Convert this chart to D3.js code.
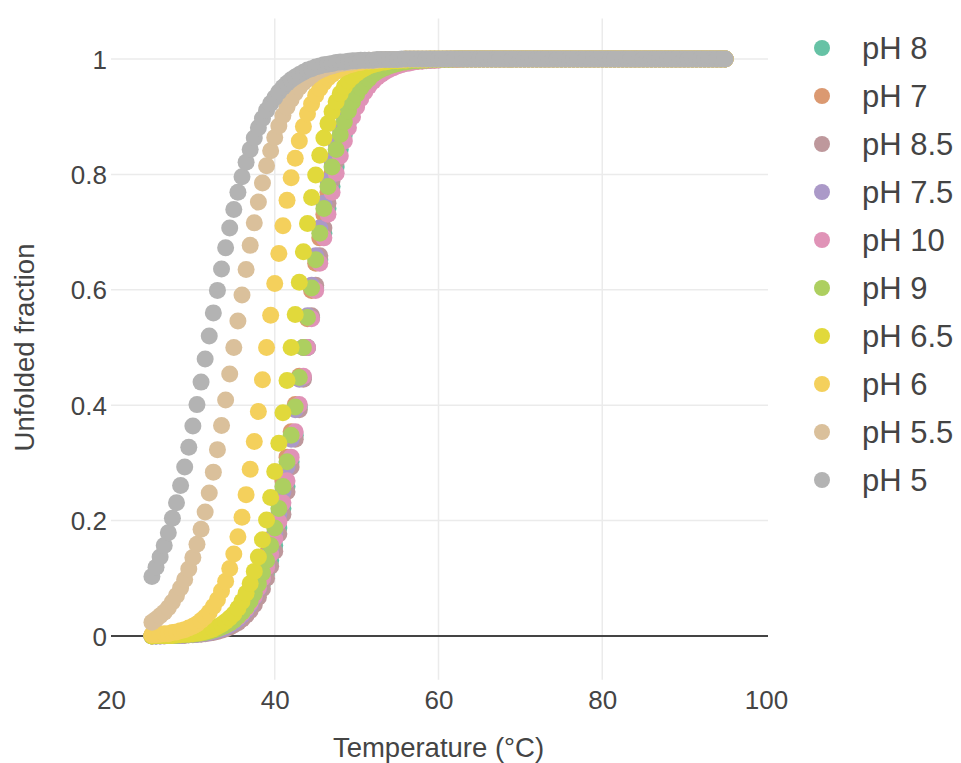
<!DOCTYPE html>
<html>
<head>
<meta charset="utf-8">
<script src="https://cdn.jsdelivr.net/npm/d3@7"></script>
<style>
html, body { margin: 0; padding: 0; background: #fff; }
svg { display: block; font-family: "Liberation Sans", Arial, sans-serif; }
</style>
</head>
<body>
<svg id="chart" width="961" height="763"></svg>
<script>
// ---------------- data ----------------
const temperatures = [
  25,25.5,26,26.5,27,27.5,28,28.5,29,29.5,
  30,30.5,31,31.5,32,32.5,33,33.5,34,34.5,
  35,35.5,36,36.5,37,37.5,38,38.5,39,39.5,
  40,40.5,41,41.5,42,42.5,43,43.5,44,44.5,
  45,45.5,46,46.5,47,47.5,48,48.5,49,49.5,
  50,50.5,51,51.5,52,52.5,53,53.5,54,54.5,
  55,55.5,56,56.5,57,57.5,58,58.5,59,59.5,
  60,60.5,61,61.5,62,62.5,63,63.5,64,64.5,
  65,65.5,66,66.5,67,67.5,68,68.5,69,69.5,
  70,70.5,71,71.5,72,72.5,73,73.5,74,74.5,
  75,75.5,76,76.5,77,77.5,78,78.5,79,79.5,
  80,80.5,81,81.5,82,82.5,83,83.5,84,84.5,
  85,85.5,86,86.5,87,87.5,88,88.5,89,89.5,
  90,90.5,91,91.5,92,92.5,93,93.5,94,94.5,
  95
];

const seriesNames = ["pH 8","pH 7","pH 8.5","pH 7.5","pH 10","pH 9","pH 6.5","pH 6","pH 5.5","pH 5"];
const seriesColors = ["#66c2a5","#db9971","#be989c","#ab99c8","#e093b7","#adcf60","#e1d93b","#f4d05c","#dac09b","#b3b3b3"];

const ph8 = [
  0,0,0.001,0.001,0.001,0.001,0.001,0.001,0.002,0.002,
  0.003,0.003,0.004,0.005,0.006,0.008,0.010,0.012,0.015,0.018,
  0.022,0.027,0.034,0.041,0.050,0.061,0.074,0.090,0.109,0.131,
  0.157,0.187,0.221,0.259,0.302,0.348,0.397,0.448,0.500,0.552,
  0.603,0.652,0.698,0.741,0.779,0.813,0.843,0.869,0.891,0.910,
  0.926,0.939,0.950,0.959,0.966,0.973,0.978,0.982,0.985,0.988,
  0.990,0.992,0.994,0.995,0.996,0.997,0.997,0.998,0.998,0.999,
  0.999,0.999,0.999,0.999,0.999,1,1,1,1,1,
  1,1,1,1,1,1,1,1,1,1,
  1,1,1,1,1,1,1,1,1,1,
  1,1,1,1,1,1,1,1,1,1,
  1,1,1,1,1,1,1,1,1,1,
  1,1,1,1,1,1,1,1,1,1,
  1,1,1,1,1,1,1,1,1,1,
  1
];
const ph7 = [
  0.001,0.001,0.001,0.001,0.001,0.002,0.002,0.002,0.003,0.004,
  0.004,0.005,0.007,0.008,0.010,0.012,0.015,0.018,0.022,0.027,
  0.032,0.039,0.047,0.057,0.069,0.083,0.100,0.119,0.142,0.168,
  0.198,0.231,0.269,0.310,0.354,0.401,0.450,0.500,0.550,0.599,
  0.646,0.690,0.731,0.769,0.802,0.832,0.858,0.881,0.900,0.917,
  0.931,0.943,0.953,0.961,0.968,0.973,0.978,0.982,0.985,0.988,
  0.990,0.992,0.993,0.995,0.996,0.996,0.997,0.998,0.998,0.998,
  0.999,0.999,0.999,0.999,0.999,1,1,1,1,1,
  1,1,1,1,1,1,1,1,1,1,
  1,1,1,1,1,1,1,1,1,1,
  1,1,1,1,1,1,1,1,1,1,
  1,1,1,1,1,1,1,1,1,1,
  1,1,1,1,1,1,1,1,1,1,
  1,1,1,1,1,1,1,1,1,1,
  1
];
const ph85 = [
  0,0,0,0,0.001,0.001,0.001,0.001,0.001,0.002,
  0.002,0.003,0.003,0.004,0.005,0.006,0.008,0.010,0.012,0.015,
  0.019,0.023,0.029,0.036,0.044,0.054,0.067,0.082,0.100,0.121,
  0.147,0.177,0.211,0.250,0.293,0.341,0.392,0.445,0.500,0.555,
  0.608,0.659,0.707,0.750,0.789,0.823,0.853,0.879,0.900,0.918,
  0.933,0.946,0.956,0.964,0.971,0.977,0.981,0.985,0.988,0.990,
  0.992,0.994,0.995,0.996,0.997,0.997,0.998,0.998,0.999,0.999,
  0.999,0.999,0.999,1,1,1,1,1,1,1,
  1,1,1,1,1,1,1,1,1,1,
  1,1,1,1,1,1,1,1,1,1,
  1,1,1,1,1,1,1,1,1,1,
  1,1,1,1,1,1,1,1,1,1,
  1,1,1,1,1,1,1,1,1,1,
  1,1,1,1,1,1,1,1,1,1,
  1
];
const ph75 = [
  0,0,0,0.001,0.001,0.001,0.001,0.001,0.002,0.002,
  0.003,0.003,0.004,0.005,0.006,0.008,0.010,0.012,0.015,0.019,
  0.023,0.029,0.036,0.044,0.054,0.067,0.082,0.100,0.121,0.147,
  0.177,0.211,0.250,0.293,0.341,0.392,0.445,0.500,0.555,0.608,
  0.659,0.707,0.750,0.789,0.823,0.853,0.879,0.900,0.918,0.933,
  0.946,0.956,0.964,0.971,0.977,0.981,0.985,0.988,0.990,0.992,
  0.994,0.995,0.996,0.997,0.997,0.998,0.998,0.999,0.999,0.999,
  0.999,0.999,1,1,1,1,1,1,1,1,
  1,1,1,1,1,1,1,1,1,1,
  1,1,1,1,1,1,1,1,1,1,
  1,1,1,1,1,1,1,1,1,1,
  1,1,1,1,1,1,1,1,1,1,
  1,1,1,1,1,1,1,1,1,1,
  1,1,1,1,1,1,1,1,1,1,
  1
];
const ph10 = [
  0,0.001,0.001,0.001,0.001,0.001,0.002,0.002,0.002,0.003,
  0.004,0.004,0.005,0.007,0.008,0.010,0.012,0.015,0.018,0.022,
  0.027,0.032,0.039,0.047,0.057,0.069,0.083,0.100,0.119,0.142,
  0.168,0.198,0.231,0.269,0.310,0.354,0.401,0.450,0.500,0.550,
  0.599,0.646,0.690,0.731,0.769,0.802,0.832,0.858,0.881,0.900,
  0.917,0.931,0.943,0.953,0.961,0.968,0.973,0.978,0.982,0.985,
  0.988,0.990,0.992,0.993,0.995,0.996,0.996,0.997,0.998,0.998,
  0.998,0.999,0.999,0.999,0.999,0.999,1,1,1,1,
  1,1,1,1,1,1,1,1,1,1,
  1,1,1,1,1,1,1,1,1,1,
  1,1,1,1,1,1,1,1,1,1,
  1,1,1,1,1,1,1,1,1,1,
  1,1,1,1,1,1,1,1,1,1,
  1,1,1,1,1,1,1,1,1,1,
  1
];
const ph9 = [
  0,0.001,0.001,0.001,0.001,0.001,0.001,0.002,0.002,0.003,
  0.003,0.004,0.005,0.006,0.008,0.010,0.012,0.015,0.018,0.022,
  0.027,0.034,0.041,0.050,0.061,0.074,0.090,0.109,0.131,0.157,
  0.187,0.221,0.259,0.302,0.348,0.397,0.448,0.500,0.552,0.603,
  0.652,0.698,0.741,0.779,0.813,0.843,0.869,0.891,0.910,0.926,
  0.939,0.950,0.959,0.966,0.973,0.978,0.982,0.985,0.988,0.990,
  0.992,0.994,0.995,0.996,0.997,0.997,0.998,0.998,0.999,0.999,
  0.999,0.999,0.999,0.999,1,1,1,1,1,1,
  1,1,1,1,1,1,1,1,1,1,
  1,1,1,1,1,1,1,1,1,1,
  1,1,1,1,1,1,1,1,1,1,
  1,1,1,1,1,1,1,1,1,1,
  1,1,1,1,1,1,1,1,1,1,
  1,1,1,1,1,1,1,1,1,1,
  1
];
const ph65 = [
  0,0.001,0.001,0.001,0.001,0.001,0.002,0.002,0.003,0.003,
  0.004,0.005,0.006,0.008,0.010,0.012,0.016,0.020,0.025,0.031,
  0.038,0.048,0.060,0.074,0.091,0.112,0.137,0.167,0.201,0.240,
  0.285,0.334,0.387,0.443,0.500,0.557,0.613,0.666,0.715,0.760,
  0.799,0.833,0.863,0.888,0.909,0.926,0.940,0.952,0.962,0.969,
  0.975,0.980,0.984,0.988,0.990,0.992,0.994,0.995,0.996,0.997,
  0.997,0.998,0.998,0.999,0.999,0.999,0.999,0.999,1,1,
  1,1,1,1,1,1,1,1,1,1,
  1,1,1,1,1,1,1,1,1,1,
  1,1,1,1,1,1,1,1,1,1,
  1,1,1,1,1,1,1,1,1,1,
  1,1,1,1,1,1,1,1,1,1,
  1,1,1,1,1,1,1,1,1,1,
  1,1,1,1,1,1,1,1,1,1,
  1
];
const ph6 = [
  0.002,0.002,0.003,0.004,0.004,0.006,0.007,0.009,0.011,0.014,
  0.017,0.021,0.027,0.033,0.041,0.051,0.063,0.078,0.095,0.117,
  0.142,0.172,0.206,0.245,0.289,0.337,0.389,0.444,0.500,0.556,
  0.611,0.663,0.711,0.755,0.794,0.828,0.858,0.883,0.905,0.922,
  0.937,0.949,0.959,0.967,0.973,0.979,0.983,0.986,0.989,0.991,
  0.993,0.994,0.996,0.996,0.997,0.998,0.998,0.999,0.999,0.999,
  0.999,0.999,1,1,1,1,1,1,1,1,
  1,1,1,1,1,1,1,1,1,1,
  1,1,1,1,1,1,1,1,1,1,
  1,1,1,1,1,1,1,1,1,1,
  1,1,1,1,1,1,1,1,1,1,
  1,1,1,1,1,1,1,1,1,1,
  1,1,1,1,1,1,1,1,1,1,
  1,1,1,1,1,1,1,1,1,1,
  1
];
const ph55 = [
  0.024,0.029,0.035,0.041,0.049,0.059,0.070,0.083,0.098,0.116,
  0.136,0.159,0.185,0.215,0.248,0.284,0.323,0.365,0.409,0.454,
  0.500,0.546,0.591,0.635,0.677,0.716,0.752,0.785,0.815,0.841,
  0.864,0.884,0.902,0.917,0.930,0.941,0.951,0.959,0.965,0.971,
  0.976,0.980,0.983,0.986,0.988,0.990,0.992,0.993,0.994,0.995,
  0.996,0.997,0.997,0.998,0.998,0.998,0.999,0.999,0.999,0.999,
  0.999,0.999,1,1,1,1,1,1,1,1,
  1,1,1,1,1,1,1,1,1,1,
  1,1,1,1,1,1,1,1,1,1,
  1,1,1,1,1,1,1,1,1,1,
  1,1,1,1,1,1,1,1,1,1,
  1,1,1,1,1,1,1,1,1,1,
  1,1,1,1,1,1,1,1,1,1,
  1,1,1,1,1,1,1,1,1,1,
  1
];
const ph5 = [
  0.103,0.119,0.137,0.157,0.179,0.204,0.231,0.261,0.293,0.327,
  0.364,0.401,0.440,0.480,0.520,0.560,0.599,0.636,0.673,0.707,
  0.739,0.769,0.796,0.821,0.843,0.863,0.881,0.897,0.911,0.923,
  0.933,0.943,0.951,0.958,0.964,0.969,0.973,0.977,0.981,0.983,
  0.986,0.988,0.990,0.991,0.992,0.994,0.995,0.995,0.996,0.997,
  0.997,0.998,0.998,0.998,0.998,0.999,0.999,0.999,0.999,0.999,
  0.999,1,1,1,1,1,1,1,1,1,
  1,1,1,1,1,1,1,1,1,1,
  1,1,1,1,1,1,1,1,1,1,
  1,1,1,1,1,1,1,1,1,1,
  1,1,1,1,1,1,1,1,1,1,
  1,1,1,1,1,1,1,1,1,1,
  1,1,1,1,1,1,1,1,1,1,
  1,1,1,1,1,1,1,1,1,1,
  1
];

const seriesValues = [ph8, ph7, ph85, ph75, ph10, ph9, ph65, ph6, ph55, ph5];

const xTicks = [20, 40, 60, 80, 100];
const yTicks = [0, 0.2, 0.4, 0.6, 0.8, 1];
const xTitle = "Temperature (°C)";
const yTitle = "Unfolded fraction";

// ---------------- drawing ----------------
const svg = d3.select("#chart");
const textColor = "#444";

const x = d3.scaleLinear().domain([20, 100]).range([111, 766]);
const y = d3.scaleLinear().domain([0, 1]).range([636, 59]);
const plotTop = y(1.07), plotBottom = y(-0.076);
const plotLeft = x(20), plotRight = x(100) + 2;

svg.append("rect").attr("width", 961).attr("height", 763).attr("fill", "#fff");

// vertical grid (interior ticks)
svg.append("g").selectAll("line")
  .data(xTicks.filter(t => t > 20 && t < 100))
  .join("line")
  .attr("x1", d => x(d)).attr("x2", d => x(d))
  .attr("y1", plotTop).attr("y2", plotBottom)
  .attr("stroke", "#ebebeb").attr("stroke-width", 1.5);

// horizontal grid
svg.append("g").selectAll("line")
  .data(yTicks.filter(t => t !== 0))
  .join("line")
  .attr("x1", plotLeft).attr("x2", plotRight)
  .attr("y1", d => y(d)).attr("y2", d => y(d))
  .attr("stroke", "#ebebeb").attr("stroke-width", 1.5);

// zero line
svg.append("line")
  .attr("x1", plotLeft).attr("x2", plotRight)
  .attr("y1", y(0)).attr("y2", y(0))
  .attr("stroke", "#444").attr("stroke-width", 2);

// x axis (labels only)
const xAxis = d3.axisBottom(x).tickValues(xTicks).tickSize(0).tickPadding(0).tickFormat(d3.format("d"));
const gx = svg.append("g").attr("transform", `translate(0,${plotBottom})`).call(xAxis);
gx.select(".domain").remove();
gx.selectAll("text")
  .attr("y", 29).attr("dy", null)
  .attr("fill", textColor).style("font-size", "26px")
  .style("font-family", '"Liberation Sans", Arial, sans-serif');

// y axis (labels only)
const yAxis = d3.axisLeft(y).tickValues(yTicks).tickSize(0).tickPadding(0).tickFormat(d => d3.format("~g")(d));
const gy = svg.append("g").attr("transform", `translate(${plotLeft - 4},0)`).call(yAxis);
gy.select(".domain").remove();
gy.selectAll("text")
  .attr("x", 0).attr("dy", "0.35em")
  .attr("fill", textColor).style("font-size", "26px")
  .style("font-family", '"Liberation Sans", Arial, sans-serif');

// axis titles
svg.append("text")
  .attr("x", (plotLeft + x(100)) / 2).attr("y", 757)
  .attr("text-anchor", "middle").attr("fill", textColor)
  .style("font-size", "27.5px").text(xTitle);
svg.append("text")
  .attr("transform", `translate(34,${y(0.5)}) rotate(-90)`)
  .attr("text-anchor", "middle").attr("fill", textColor)
  .style("font-size", "27.5px").text(yTitle);

// markers (series drawn in legend order; later series on top)
const markerR = 8.5;
const gMarks = svg.append("g");
seriesValues.forEach((vals, si) => {
  const pts = temperatures.map((t, i) => ({ t, v: vals[i] })).filter(p => p.v !== undefined);
  gMarks.append("g").attr("class", "series")
    .selectAll("circle").data(pts).join("circle")
    .attr("cx", d => x(d.t)).attr("cy", d => y(d.v))
    .attr("r", markerR).attr("fill", seriesColors[si]);
});

// legend
const legend = svg.append("g").attr("transform", "translate(822,48)");
const item = legend.selectAll("g").data(seriesNames).join("g")
  .attr("transform", (d, i) => `translate(0,${i * 48})`);
item.append("circle").attr("r", 8).attr("fill", (d, i) => seriesColors[i]);
item.append("text").attr("x", 40).attr("y", 11)
  .attr("fill", textColor).style("font-size", "31px").text(d => d);
</script>
</body>
</html>
